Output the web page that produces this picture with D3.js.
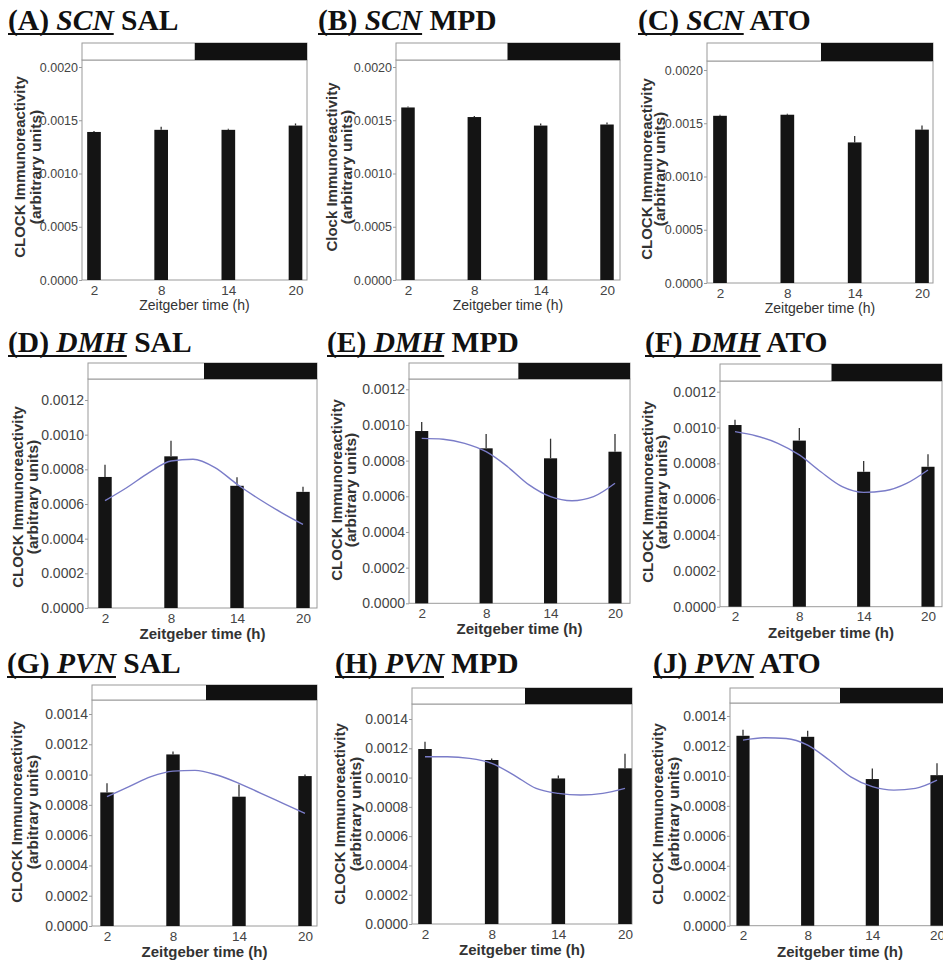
<!DOCTYPE html>
<html><head><meta charset="utf-8">
<script src="https://cdn.jsdelivr.net/npm/d3@7"></script>
<style>
body{margin:0;background:#fff}
text{font-family:"Liberation Sans",Arial,sans-serif}
</style>
</head><body>
<svg id="c" width="943" height="965"></svg>
<script>
// ---------------- DATA ----------------
const times = [2, 8, 14, 20];
const xTickLabels = ["2", "8", "14", "20"];
const panelLetters = ["(A)", "(B)", "(C)", "(D)", "(E)", "(F)", "(G)", "(H)", "(J)"];
const regions = ["SCN", "SCN", "SCN", "DMH", "DMH", "DMH", "PVN", "PVN", "PVN"];
const treatments = ["SAL", "MPD", "ATO", "SAL", "MPD", "ATO", "SAL", "MPD", "ATO"];
const yTitles = ["CLOCK Immunoreactivity", "Clock Immunoreactivity", "CLOCK Immunoreactivity",
  "CLOCK Immunoreactivity", "CLOCK Immunoreactivity", "CLOCK Immunoreactivity",
  "CLOCK Immunoreactivity", "CLOCK Immunoreactivity", "CLOCK Immunoreactivity"];
const yUnitTitle = "(arbitrary units)";
const xTitle = "Zeitgeber time (h)";
const lightDarkBoundary = 11;

const yTicksSCN = [0, 0.0005, 0.0010, 0.0015, 0.0020];
const yTicksDMH = [0, 0.0002, 0.0004, 0.0006, 0.0008, 0.0010, 0.0012];
const yTicksPVN = [0, 0.0002, 0.0004, 0.0006, 0.0008, 0.0010, 0.0012, 0.0014];

// bar means and SEM (upper error)
const scnSal = [0.00139, 0.00141, 0.00141, 0.00145];
const scnSalErr = [0.00001, 0.00003, 0.00001, 0.00002];
const scnMpd = [0.00162, 0.00153, 0.00145, 0.00146];
const scnMpdErr = [0.00001, 0.00001, 0.00002, 0.00002];
const scnAto = [0.00157, 0.00158, 0.00132, 0.00144];
const scnAtoErr = [0.00001, 0.00001, 0.00006, 0.00004];
const dmhSal = [0.000756, 0.000875, 0.000705, 0.00067];
const dmhSalErr = [0.00007, 0.00009, 0.00005, 0.00003];
const dmhMpd = [0.000966, 0.000869, 0.000813, 0.00085];
const dmhMpdErr = [0.00005, 0.00008, 0.00011, 0.00010];
const dmhAto = [0.001014, 0.000927, 0.000753, 0.000781];
const dmhAtoErr = [0.00003, 0.00007, 0.00006, 0.00007];
const pvnSal = [0.000882, 0.001133, 0.000854, 0.00099];
const pvnSalErr = [0.00006, 0.00002, 0.00008, 0.00001];
const pvnMpd = [0.001195, 0.00112, 0.000994, 0.001063];
const pvnMpdErr = [0.00005, 0.00001, 0.00002, 0.00010];
const pvnAto = [0.001268, 0.001261, 0.000979, 0.001005];
const pvnAtoErr = [0.00004, 0.00004, 0.00007, 0.00008];

// fitted rhythm curves
const curveTimes = [2, 4, 6, 8, 10, 12, 14, 16, 18, 20];
const curveDmhSal = [0.000619, 0.000695, 0.000781, 0.000848, 0.000858, 0.00081, 0.000714, 0.000629, 0.000552, 0.000482];
const curveDmhMpd = [0.000925, 0.00092, 0.000897, 0.00085, 0.000766, 0.000664, 0.000598, 0.000575, 0.000598, 0.000673];
const curveDmhAto = [0.000977, 0.000953, 0.000912, 0.000847, 0.000753, 0.00067, 0.000638, 0.000647, 0.000688, 0.000763];
const curvePvnSal = [0.000854, 0.00092, 0.000986, 0.001023, 0.001028, 0.000997, 0.000942, 0.000876, 0.00081, 0.000744];
const curvePvnMpd = [0.001142, 0.001142, 0.001131, 0.001097, 0.001017, 0.000926, 0.000892, 0.000881, 0.000892, 0.000926];
const curvePvnAto = [0.001239, 0.001255, 0.00125, 0.001206, 0.001106, 0.000994, 0.000928, 0.000905, 0.000917, 0.000972];

const means = [scnSal, scnMpd, scnAto, dmhSal, dmhMpd, dmhAto, pvnSal, pvnMpd, pvnAto];
const errs = [scnSalErr, scnMpdErr, scnAtoErr, dmhSalErr, dmhMpdErr, dmhAtoErr, pvnSalErr, pvnMpdErr, pvnAtoErr];
const curves = [null, null, null, curveDmhSal, curveDmhMpd, curveDmhAto, curvePvnSal, curvePvnMpd, curvePvnAto];
const yTickSets = [yTicksSCN, yTicksSCN, yTicksSCN, yTicksDMH, yTicksDMH, yTicksDMH, yTicksPVN, yTicksPVN, yTicksPVN];

// ---------------- LAYOUT ----------------
const layout = [
  {L:82,  R:307, p2:94,    p20:295.5, ldTop:43,  ldBot:60,  zeroY:280,   refY:67,    tx:8,   ty:30,  d1:-57, d2:-41, cy:167, row:0},
  {L:396, R:620, p2:408,   p20:607,   ldTop:43,  ldBot:60,  zeroY:280,   refY:67,    tx:318, ty:30,  d1:-59, d2:-44, cy:167, row:0},
  {L:707, R:933, p2:720,   p20:922,   ldTop:43,  ldBot:61,  zeroY:283,   refY:70,    tx:638, ty:30,  d1:-55, d2:-42, cy:169, row:0},
  {L:88,  R:317, p2:105,   p20:303,   ldTop:363, ldBot:379, zeroY:608,   refY:400,   tx:8,   ty:352, d1:-65, d2:-50, cy:497, row:1},
  {L:409, R:630, p2:421.7, p20:615,   ldTop:363, ldBot:379, zeroY:603.3, refY:389.3, tx:327, ty:352, d1:-67, d2:-53, cy:490, row:1},
  {L:720, R:942, p2:735,   p20:928,   ldTop:364, ldBot:381, zeroY:606.7, refY:391.7, tx:645, ty:352, d1:-67, d2:-53, cy:492, row:1},
  {L:92,  R:317, p2:107,   p20:305,   ldTop:685, ldBot:700, zeroY:926,   refY:714,   tx:7,   ty:673, d1:-70, d2:-54, cy:812, row:2},
  {L:412, R:632, p2:425,   p20:625,   ldTop:688, ldBot:704, zeroY:924,   refY:719,   tx:335, ty:673, d1:-67, d2:-51, cy:814, row:2},
  {L:730, R:950, p2:743,   p20:937,   ldTop:688, ldBot:703, zeroY:925.7, refY:716,   tx:653, ty:673, d1:-67, d2:-51, cy:814, row:2}
];
const rowStyle = [
  {yTick:12.5, xTick:13.5, xTitleSize:14, xTitleWeight:"normal", xTitleDy:30},
  {yTick:14, xTick:13.5, xTitleSize:15, xTitleWeight:"bold", xTitleDy:31},
  {yTick:14, xTick:13.5, xTitleSize:15, xTitleWeight:"bold", xTitleDy:31}
];
const frameColor = "#9a9a9a";
const textColor = "#444";

const svg = d3.select("#c");
svg.append("rect").attr("width", 943).attr("height", 965).attr("fill", "#fff");

layout.forEach((P, i) => {
  const rs = rowStyle[P.row];
  const ticks = yTickSets[i];
  const x = d3.scaleLinear().domain([times[0], times[times.length - 1]]).range([P.p2, P.p20]);
  const y = d3.scaleLinear().domain([0, ticks[ticks.length - 1]]).range([P.zeroY, P.refY]);
  const g = svg.append("g");

  // frame
  g.append("rect").attr("x", P.L).attr("y", P.ldBot).attr("width", P.R - P.L).attr("height", P.zeroY - P.ldBot)
    .attr("fill", "none").attr("stroke", frameColor).attr("stroke-width", 1);

  // light/dark bar
  g.append("rect").attr("x", P.L).attr("y", P.ldTop).attr("width", P.R - P.L).attr("height", P.ldBot - P.ldTop)
    .attr("fill", "#fff").attr("stroke", frameColor).attr("stroke-width", 1);
  g.append("rect").attr("x", x(lightDarkBoundary)).attr("y", P.ldTop).attr("width", P.R - x(lightDarkBoundary))
    .attr("height", P.ldBot - P.ldTop).attr("fill", "#111");

  // y axis
  const ya = g.append("g").attr("transform", `translate(${P.L},0)`)
    .call(d3.axisLeft(y).tickValues(ticks).tickFormat(d3.format(".4f")).tickSize(3).tickPadding(1));
  ya.select(".domain").remove();
  ya.selectAll("line").attr("stroke", frameColor);
  ya.selectAll("text").attr("fill", textColor).style("font-size", rs.yTick + "px");

  // x axis
  const xa = g.append("g").attr("transform", `translate(0,${P.zeroY})`)
    .call(d3.axisBottom(x).tickValues(times).tickFormat((d, k) => xTickLabels[k]).tickSize(0).tickPadding(5));
  xa.select(".domain").remove();
  xa.selectAll("text").attr("fill", textColor).style("font-size", rs.xTick + "px");

  // bars
  const half = 0.61;
  g.selectAll(".bar").data(times).join("rect")
    .attr("x", d => x(d - half)).attr("width", d => x(d + half) - x(d - half))
    .attr("y", (d, k) => y(means[i][k])).attr("height", (d, k) => y(0) - y(means[i][k]))
    .attr("fill", "#141414");
  // error bars
  g.selectAll(".err").data(times).join("line")
    .attr("x1", d => x(d)).attr("x2", d => x(d))
    .attr("y1", (d, k) => y(means[i][k])).attr("y2", (d, k) => y(means[i][k] + errs[i][k]))
    .attr("stroke", "#333").attr("stroke-width", 1.3);

  // fitted curve
  if (curves[i]) {
    const line = d3.line().x(d => x(d[0])).y(d => y(d[1])).curve(d3.curveMonotoneX);
    g.append("path").datum(curveTimes.map((t, k) => [t, curves[i][k]]))
      .attr("d", line).attr("fill", "none").attr("stroke", "#7a7cc8").attr("stroke-width", 1.4);
  }

  // axis titles
  g.append("text").attr("x", (P.L + P.R) / 2).attr("y", P.zeroY + rs.xTitleDy)
    .attr("text-anchor", "middle").attr("fill", "#333")
    .style("font-size", rs.xTitleSize + "px").style("font-weight", rs.xTitleWeight).text(xTitle);
  g.append("text").attr("transform", `translate(${P.L + P.d1},${P.cy}) rotate(-90)`)
    .attr("text-anchor", "middle").attr("fill", "#333")
    .style("font-size", "15px").style("font-weight", "bold").text(yTitles[i]);
  g.append("text").attr("transform", `translate(${P.L + P.d2},${P.cy}) rotate(-90)`)
    .attr("text-anchor", "middle").attr("fill", "#333")
    .style("font-size", "15.5px").style("font-weight", "bold").text(yUnitTitle);

  // panel title
  const t = g.append("text").attr("x", P.tx).attr("y", P.ty).attr("fill", "#111")
    .style("font-family", "'Liberation Serif','Times New Roman',serif").style("font-size", "29.5px").style("font-weight", "bold");
  t.append("tspan").text(panelLetters[i] + " ");
  t.append("tspan").style("font-style", "italic").text(regions[i]);
  t.append("tspan").text(" " + treatments[i]);
  const uLen = t.node().getSubStringLength(0, (panelLetters[i] + " " + regions[i]).length);
  g.append("line").attr("x1", P.tx).attr("x2", P.tx + uLen).attr("y1", P.ty + 4).attr("y2", P.ty + 4)
    .attr("stroke", "#111").attr("stroke-width", 2);
});
</script>
</body></html>
